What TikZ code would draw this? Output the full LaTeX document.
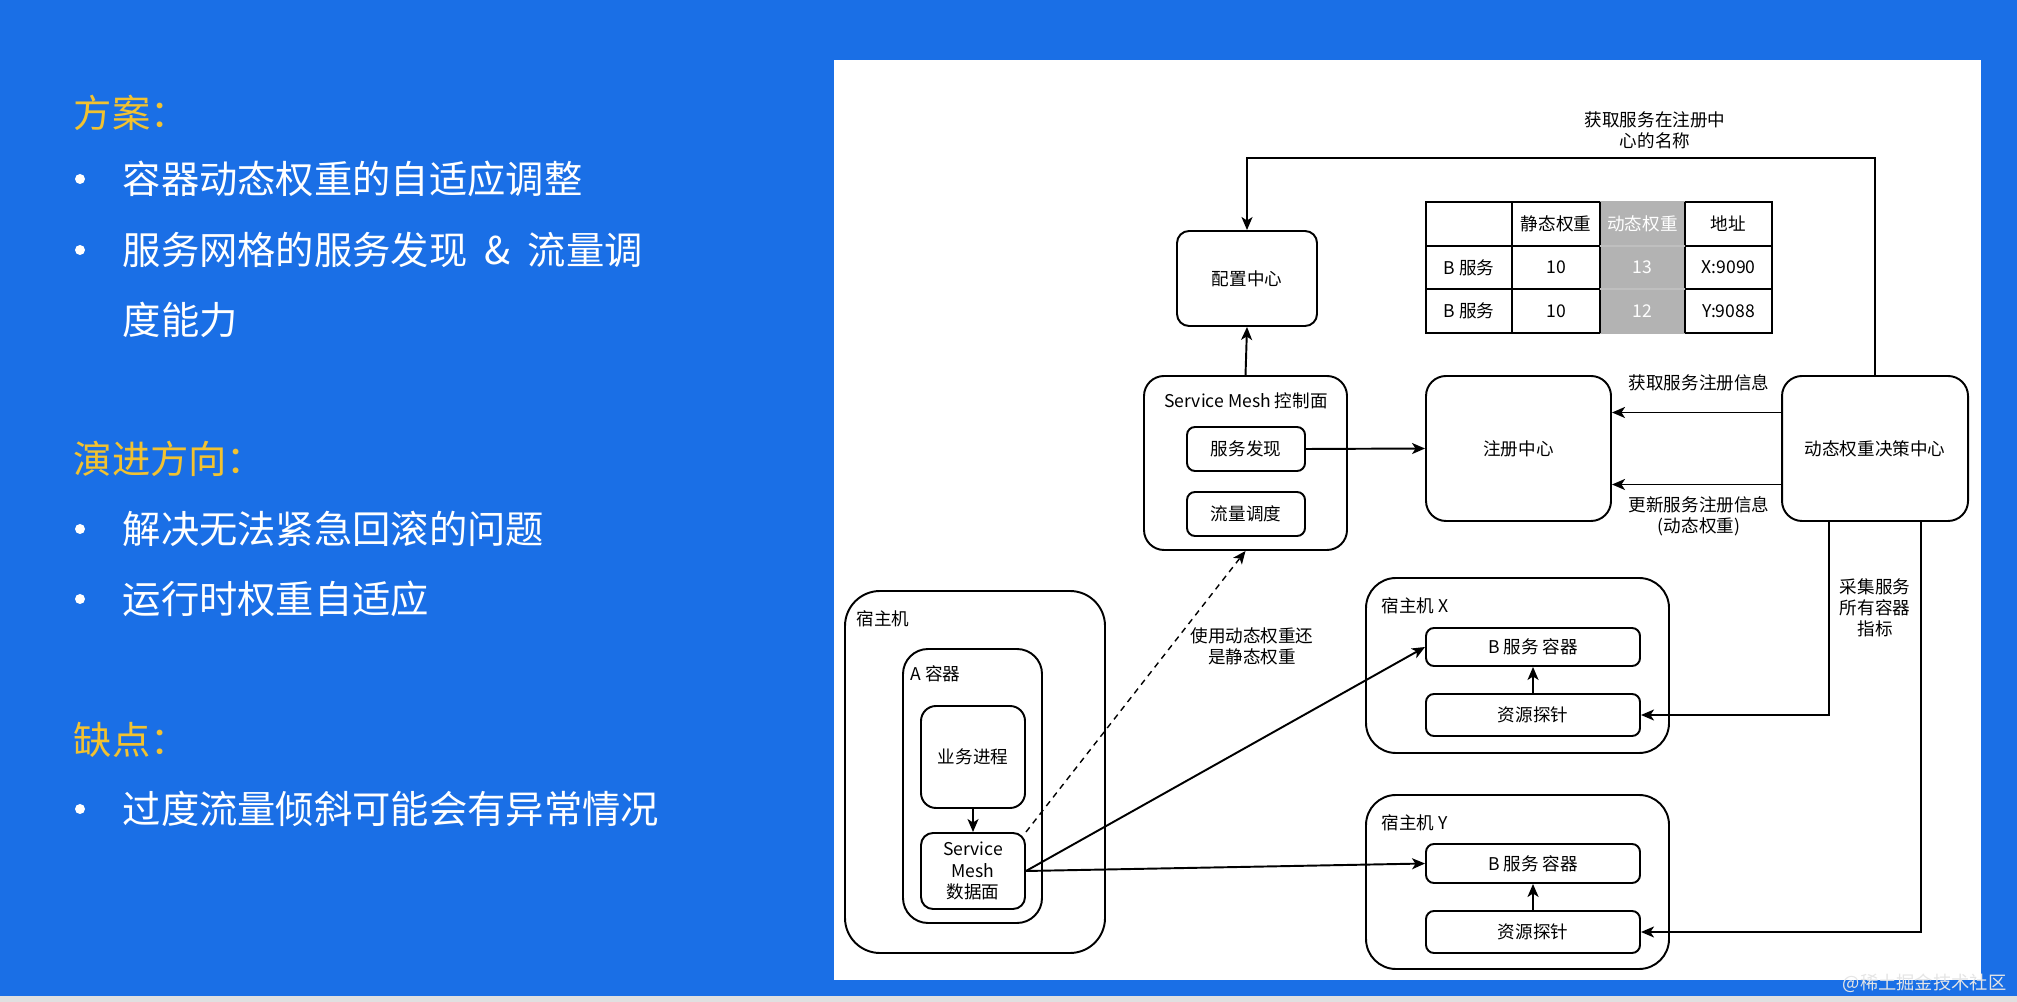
\documentclass[tikz,border=0pt]{standalone}
\usepackage{fontspec}
\setmainfont{Noto Sans CJK SC}
\usetikzlibrary{arrows.meta,positioning}
\definecolor{slideblue}{HTML}{1A6FE6}
\definecolor{headyellow}{HTML}{F2C230}
\definecolor{cellgray}{HTML}{B3B3B3}
\tikzset{
  box/.style={draw, rounded corners=#1, line width=0.55pt, align=center, inner sep=0pt},
  box/.default=1mm,
  lbl/.style={align=center, inner sep=0pt},
  arr/.style={line width=0.55pt, -{Stealth[length=1.3mm,width=1.1mm,inset=0.35mm]}},
  slidetext/.style={anchor=west, inner sep=0pt, text=white, font=\fontsize{10.9pt}{13pt}\selectfont},
  heading/.style={slidetext, text=headyellow},
}
\begin{document}
\begin{tikzpicture}[x=0.1mm, y=-0.1mm, font=\fontsize{5pt}{6pt}\selectfont]
      \useasboundingbox (0,0) rectangle (2017,1002);
      \fill[slideblue] (0,0) rectangle (2017,1002);
      \fill[black!12] (0,996) rectangle (2017,1002);
      % left column
      \node[heading] (plan) at (73,113) {方案：};
      \node[slidetext] (item1) at (122,179) {容器动态权重的自适应调整};
      \node[slidetext] (item2) at (122,250) {服务网格的服务发现\hspace{0.45em}\&\hspace{0.45em}流量调};
      \node[slidetext] (item2b) at (122,320) {度能力};
      \node[heading] (trend) at (73,459) {演进方向：};
      \node[slidetext] (item3) at (122,529) {解决无法紧急回滚的问题};
      \node[slidetext] (item4) at (122,599) {运行时权重自适应};
      \node[heading] (cons) at (73,740) {缺点：};
      \node[slidetext] (item5) at (122,809) {过度流量倾斜可能会有异常情况};
      \foreach \y in {179,250,529,599,809}
        \fill[white] (80,\y) circle[radius=0.5mm];
      % diagram panel
      \fill[white] (834,60) rectangle (1981,980);
      \node[box=1.2mm, minimum width=14mm, minimum height=9.5mm] (cfg) at (1247,278.5) {配置中心};
      \node[box=2mm, minimum width=20.3mm, minimum height=17.4mm] (ctrl) at (1245.5,463) {};
      \node[lbl] (ctrlTitle) at (1246,401) {Service Mesh 控制面};
      \node[box=0.8mm, minimum width=11.8mm, minimum height=4.4mm] (disc) at (1246,449) {服务发现};
      \node[box=0.8mm, minimum width=11.8mm, minimum height=4.4mm] (flow) at (1246,514) {流量调度};
      \node[box=2mm, minimum width=18.5mm, minimum height=14.5mm] (reg) at (1518.5,448.5) {注册中心};
      \node[box=2mm, minimum width=18.6mm, minimum height=14.5mm] (dec) at (1875,448.5) {动态权重决策中心};
      % table
      \draw[line width=0.55pt] (1426,202) rectangle (1772,333);
      \fill[cellgray] (1600,201) rectangle (1685,334);
      \foreach \x in {1512,1600,1685}
        \draw[line width=0.55pt] (\x,202) -- (\x,333);
      \foreach \y in {246,289} {
        \draw[line width=0.55pt] (1426,\y) -- (1600,\y);
        \draw[line width=0.55pt] (1685,\y) -- (1772,\y);
        \draw[black!25] (1600,\y) -- (1685,\y);
      }
      \node[lbl] (hStatic) at (1556,224) {静态权重};
      \node[lbl, text=white] (hDyn) at (1642.5,224) {动态权重};
      \node[lbl] (hAddr) at (1728.5,224) {地址};
      \node[lbl] (r1Name) at (1469,267.5) {B 服务};
      \node[lbl] (r1Static) at (1556,267.5) {10};
      \node[lbl, text=white] (r1Dyn) at (1642.5,267.5) {13};
      \node[lbl] (r1Addr) at (1728.5,267.5) {X:9090};
      \node[lbl] (r2Name) at (1469,311) {B 服务};
      \node[lbl] (r2Static) at (1556,311) {10};
      \node[lbl, text=white] (r2Dyn) at (1642.5,311) {12};
      \node[lbl] (r2Addr) at (1728.5,311) {Y:9088};
      % hosts
      \node[box=3.5mm, minimum width=26mm, minimum height=36.2mm] (hostA) at (975,772) {};
      \node[lbl, anchor=west] (hostATitle) at (856,619) {宿主机};
      \node[box=2.5mm, minimum width=13.9mm, minimum height=27.4mm] (ctnA) at (972.5,786) {};
      \node[lbl, anchor=west] (ctnATitle) at (910,674) {A 容器};
      \node[box=1.5mm, minimum width=10.4mm, minimum height=10.2mm] (biz) at (973,757) {业务进程};
      \node[box=1.2mm, minimum width=10.4mm, minimum height=7.6mm] (data) at (973,871) {Service\\Mesh\\数据面};
      \node[box=3mm, minimum width=30.3mm, minimum height=17.5mm] (hostX) at (1517.5,665.5) {};
      \node[lbl, anchor=west] (hostXTitle) at (1381,606) {宿主机 X};
      \node[box=0.8mm, minimum width=21.4mm, minimum height=3.8mm] (svcX) at (1533,647) {B 服务 容器};
      \node[box=0.8mm, minimum width=21.4mm, minimum height=4.2mm] (probeX) at (1533,715) {资源探针};
      \node[box=3mm, minimum width=30.3mm, minimum height=17.4mm] (hostY) at (1517.5,882) {};
      \node[lbl, anchor=west] (hostYTitle) at (1381,823) {宿主机 Y};
      \node[box=0.8mm, minimum width=21.4mm, minimum height=3.9mm] (svcY) at (1533,863.5) {B 服务 容器};
      \node[box=0.8mm, minimum width=21.4mm, minimum height=4.2mm] (probeY) at (1533,932) {资源探针};
      % labels
      \node[lbl] (topLbl) at (1655,130) {获取服务在注册中\\心的名称};
      \node[lbl] (getLbl) at (1699,383) {获取服务注册信息};
      \node[lbl] (updLbl) at (1699,516) {更新服务注册信息\\(动态权重)};
      \node[lbl] (colLbl) at (1875,608) {采集服务\\所有容器\\指标};
      \node[lbl] (useLbl) at (1252,646) {使用动态权重还\\是静态权重};
      % connectors
      \coordinate (topRow) at (1560,158);
      \draw[arr] (dec.north) |- (topRow) -| (cfg.north);
      \draw[arr] (ctrl.north) -- (cfg.south);
      \draw[arr] (disc.east) -- (reg.west);
      \draw[arr] ([yshift=3.6mm]dec.west) -- ([yshift=3.6mm]reg.east);
      \draw[arr] ([yshift=-3.6mm]dec.west) -- ([yshift=-3.6mm]reg.east);
      \draw[arr] ([xshift=-4.6mm]dec.south) |- (probeX.east);
      \draw[arr] ([xshift=4.6mm]dec.south) |- (probeY.east);
      \draw[arr] (biz.south) -- (data.north);
      \draw[arr, line width=0.4pt, dash pattern=on 0.6mm off 0.5mm] (data.north east) -- (ctrl.south);
      \draw[arr] (data.east) -- (svcX.west);
      \draw[arr] (data.east) -- (svcY.west);
      \draw[arr] (probeX.north) -- (svcX.south);
      \draw[arr] (probeY.north) -- (svcY.south);
      \node[lbl, anchor=east, text=white!80!gray] (mark) at (2007,983) {\fontsize{5.2pt}{6pt}\selectfont @稀土掘金技术社区};
    \end{tikzpicture}
\end{document}
